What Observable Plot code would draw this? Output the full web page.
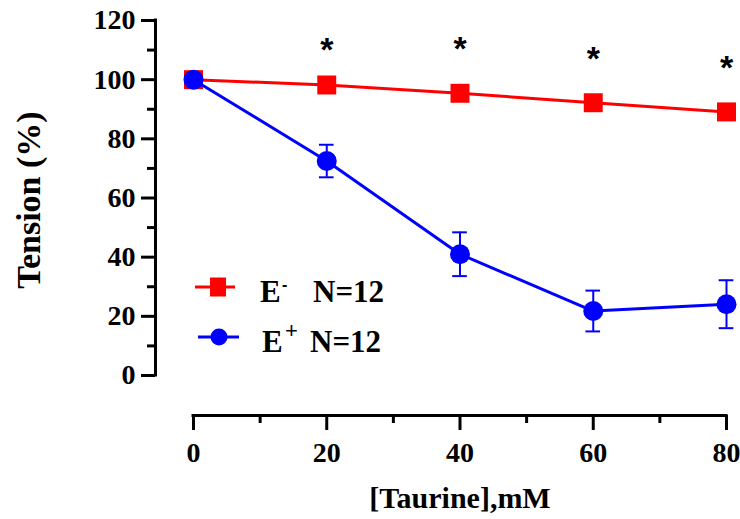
<!DOCTYPE html>
<html>
<head>
<meta charset="utf-8">
<script src="https://cdn.jsdelivr.net/npm/d3@7"></script>
<script src="https://cdn.jsdelivr.net/npm/@observablehq/plot@0.6"></script>
<style>
  html, body { margin: 0; padding: 0; background: #fff; }
  #chart { position: relative; width: 740px; height: 519px; }
</style>
</head>
<body>
<div id="chart"></div>
<script>
// ---- data ----
const doses = [0, 20, 40, 60, 80];
const eMinus = [100, 98.2, 95.4, 92.2, 89.1];
const ePlus = [100, 72.5, 41, 21.8, 24.1];
const ePlusErr = [0, 5.5, 7.4, 6.9, 8.1];
const starDoses = [20, 40, 60, 80];
const starY = [111, 111.5, 107.8, 104.8];
const xTicks = [0, 20, 40, 60, 80];
const xMinor = [10, 30, 50, 70];
const yTicks = [0, 20, 40, 60, 80, 100, 120];
const yMinor = [10, 30, 50, 70, 90, 110];
const xTitle = "[Taurine],mM";
const yTitle = "Tension (%)";
const legendLabels = [["E", "-", "N=12"], ["E", "+", "N=12"]];

const red = "#ff0000", blue = "#0000ff";
const minusData = doses.map((x, i) => ({x, y: eMinus[i]}));
const plusData = doses.map((x, i) => ({x, y: ePlus[i], e: ePlusErr[i]}));
const plusErr = plusData.filter(d => d.e > 0);
const stars = starDoses.map((x, i) => ({x, y: starY[i]}));

const serif = "'Liberation Serif', 'Times New Roman', serif";
const sans = "'Liberation Sans', Arial, sans-serif";

const plot = Plot.plot({
  width: 740,
  height: 519,
  marginLeft: 193,
  marginRight: 14,
  marginTop: 20,
  marginBottom: 144,
  x: {domain: [0, 80]},
  y: {domain: [0, 120]},
  style: {fontFamily: serif, fontWeight: "bold", fontSize: "28px", color: "#000", background: "#fff"},
  marks: [
    // y axis (offset left)
    Plot.ruleX([0], {y1: 0, y2: 120, dx: -38, strokeWidth: 3, strokeLinecap: "square"}),
    Plot.axisY({ticks: yTicks, tickSize: 14, tickPadding: 6, dx: -38, strokeWidth: 3, label: null, fontSize: 28, fontWeight: "bold"}),
    Plot.axisY({ticks: yMinor, tickSize: 8, text: null, dx: -38, strokeWidth: 3, label: null}),
    // x axis (offset down)
    Plot.ruleY([0], {x1: 0, x2: 80, dy: 40, strokeWidth: 3, strokeLinecap: "square"}),
    Plot.axisX({ticks: xTicks, tickSize: 15, tickPadding: 12, dy: 40, strokeWidth: 3, label: null, fontSize: 28, fontWeight: "bold"}),
    Plot.axisX({ticks: xMinor, tickSize: 8, text: null, dy: 40, strokeWidth: 3, label: null}),
    // titles
    Plot.text([xTitle], {frameAnchor: "bottom", dy: 123, textAnchor: "middle", lineAnchor: "middle", fontSize: 30, fontWeight: "bold"}),
    Plot.text([yTitle], {frameAnchor: "left", dx: -164, dy: 2, rotate: -90, textAnchor: "middle", lineAnchor: "middle", fontSize: 34, fontWeight: "bold"}),
    // E- series
    Plot.line(minusData, {x: "x", y: "y", stroke: red, strokeWidth: 3}),
    Plot.dot(minusData, {x: "x", y: "y", symbol: "square", r: 10.7, fill: red, stroke: "none"}),
    // E+ series
    Plot.ruleX(plusErr, {x: "x", y1: d => d.y - d.e, y2: d => d.y + d.e, stroke: blue, strokeWidth: 2}),
    Plot.ruleY(plusErr, {y: d => d.y + d.e, x1: d => d.x - 1.1, x2: d => d.x + 1.1, stroke: blue, strokeWidth: 2}),
    Plot.ruleY(plusErr, {y: d => d.y - d.e, x1: d => d.x - 1.1, x2: d => d.x + 1.1, stroke: blue, strokeWidth: 2}),
    Plot.line(plusData, {x: "x", y: "y", stroke: blue, strokeWidth: 3}),
    Plot.dot(plusData, {x: "x", y: "y", r: 10, fill: blue, stroke: "none"}),
    // significance stars
    Plot.text(stars, {x: "x", y: "y", text: () => "*", fontFamily: sans, fontSize: 34, fontWeight: "bold", lineAnchor: "middle", dy: 3})
  ]
});

// legend inside plot area
const svg = d3.select(plot);
const leg = svg.append("g").attr("text-anchor", "start");
const rows = [
  {y: 287, color: red, sym: "square", x1: 195, x2: 235, cx: 218, ex: 260, sx: 282, nx: 313},
  {y: 337, color: blue, sym: "circle", x1: 198, x2: 239, cx: 219, ex: 262, sx: 285, nx: 310}
];
rows.forEach((r, i) => {
  leg.append("line").attr("x1", r.x1).attr("x2", r.x2).attr("y1", r.y).attr("y2", r.y)
    .attr("stroke", r.color).attr("stroke-width", 3);
  if (r.sym === "square") {
    leg.append("rect").attr("x", r.cx - 8).attr("y", r.y - 9.5).attr("width", 16).attr("height", 19).attr("fill", r.color);
  } else {
    leg.append("circle").attr("cx", r.cx).attr("cy", r.y).attr("r", 8.5).attr("fill", r.color);
  }
  const [e, sup, n] = legendLabels[i];
  leg.append("text").attr("x", r.ex).attr("y", r.y + 15)
    .attr("font-family", serif).attr("font-weight", "bold").attr("font-size", 31).text(e);
  if (i === 0) {
    leg.append("text").attr("x", r.sx).attr("y", r.y + 3)
      .attr("font-family", sans).attr("font-weight", "bold").attr("font-size", 16).text(sup);
  } else {
    leg.append("text").attr("x", r.sx).attr("y", r.y + 1)
      .attr("font-family", sans).attr("font-weight", "normal").attr("font-size", 22).text(sup);
  }
  leg.append("text").attr("x", r.nx).attr("y", r.y + 15)
    .attr("font-family", serif).attr("font-weight", "bold").attr("font-size", 31).text(n);
});

document.getElementById("chart").appendChild(plot);
</script>
</body>
</html>
